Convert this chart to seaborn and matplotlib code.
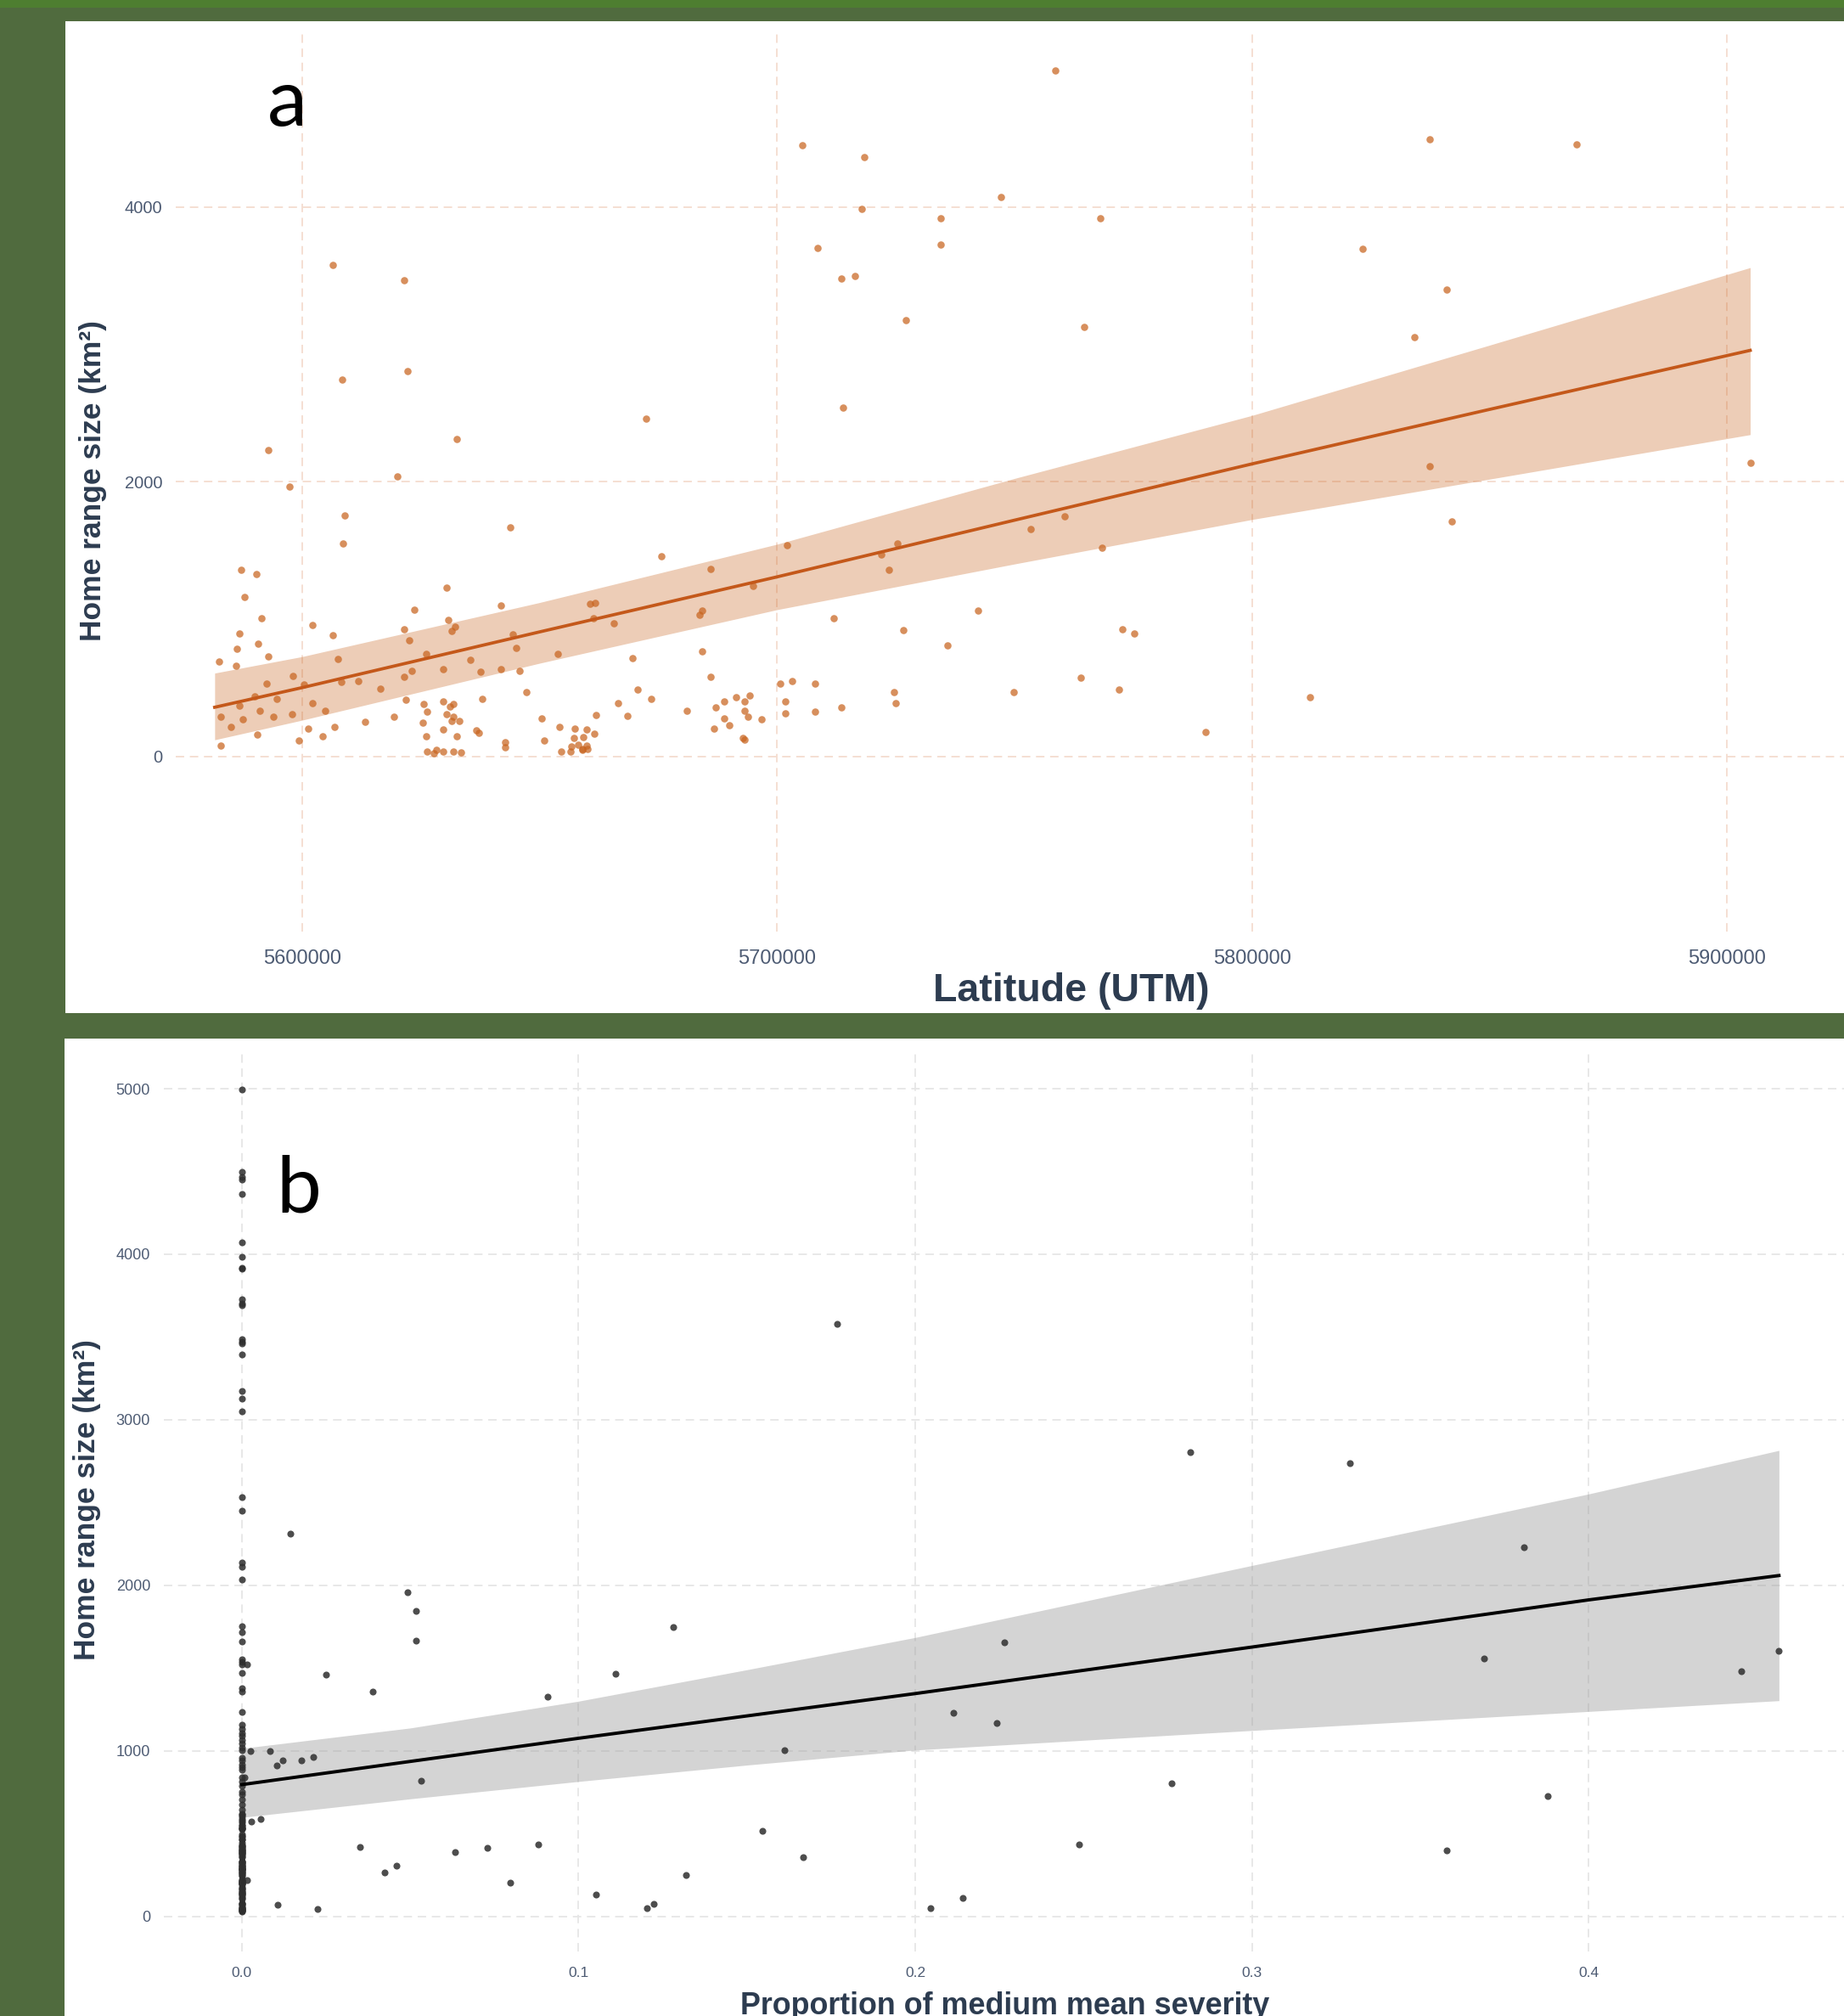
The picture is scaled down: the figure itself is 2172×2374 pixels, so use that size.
import matplotlib
matplotlib.use("Agg")
import matplotlib.pyplot as plt
from matplotlib.patches import Rectangle
import seaborn as sns

# ---------------- data : panel a (latitude vs home range) ----------------
lat_south = [5608980, 5608564, 5643770, 5587095, 5590306, 5587809, 5591377, 5586738, 5590663, 5586321,
             5592863, 5582456, 5586024, 5582813, 5584954, 5587452, 5582813, 5590603, 5591019, 5593874,
             5589948, 5594647, 5592447, 5586857, 5598156, 5597859, 5600357, 5599286, 5602141, 5606423,
             5607493, 5608207, 5602141, 5604936, 5601368, 5604282, 5606780, 5611775, 5613202, 5616473,
             5619328, 5621469, 5622599, 5623610, 5621469, 5623015, 5621826, 5626108, 5625513, 5626227,
             5625454, 5626167, 5626227, 5627713, 5628308, 5629735, 5630448, 5630805, 5631519, 5632232,
             5629735, 5629735, 5631222, 5631876, 5630389, 5631876, 5631460, 5633066, 5629735, 5632648,
             5631876, 5633422, 5635503, 5637644, 5638001, 5636752, 5637228, 5641926, 5644424, 5645138,
             5641926, 5645851, 5647279, 5642701, 5642701, 5650491, 5650908, 5653762, 5654119, 5657330,
             5659888, 5657152, 5659114, 5654595, 5656498, 5656736, 5658163, 5659055, 5659947, 5659055,
             5660066, 5661435, 5661851, 5660662, 5661613, 5661375, 5665597, 5666608, 5668451, 5669522,
             5670592]
hr_south = [1757, 1551, 1665, 1358, 1329, 1163, 1004, 892, 819, 782,
            726, 689, 662, 288, 214, 270, 77, 158, 334, 288,
            436, 421, 531, 371, 587, 307, 525, 112, 958, 884,
            707, 539, 390, 334, 203, 147, 214, 550, 251, 494,
            288, 923, 846, 1070, 577, 622, 409, 747, 382, 326,
            243, 147, 37, 25, 48, 37, 1228, 996, 913, 942,
            633, 402, 363, 380, 307, 286, 259, 259, 197, 147,
            37, 27, 705, 614, 419, 191, 170, 1097, 888, 788,
            633, 624, 465, 104, 66, 278, 112, 747, 212, 203,
            197, 135, 139, 35, 35, 73, 81, 56, 77, 46,
            52, 166, 299, 1110, 1116, 1006, 966, 390, 297, 718,
            483]

lat_mid = [5675617, 5685965, 5694945, 5684181, 5683765, 5684181, 5673476, 5680970, 5685965, 5687095,
           5688879, 5691377, 5693161, 5694291, 5693161, 5693875, 5688820, 5689950, 5686679, 5696729,
           5692804, 5693161, 5702141, 5700714, 5703211, 5707909, 5701784, 5701784, 5707909, 5713618,
           5711834, 5725393, 5721884, 5723609, 5726523, 5735860, 5742224, 5724680, 5725036, 5749776,
           5753403, 5760480]
hr_mid = [1460, 1367, 1238, 1062, 1031, 763, 419, 334, 577, 355,
          400, 429, 400, 444, 334, 290, 278, 224, 203, 270,
          131, 122, 1535, 531, 548, 531, 400, 315, 324, 355,
          1004, 1553, 1470, 1358, 921, 809, 1060, 465, 390, 465,
          1655, 1748]

lat_high = [5705381, 5718272, 5717897, 5708511, 5713517, 5716396, 5727159, 5713892, 5606383, 5621402,
            5622153, 5608511, 5632541, 5592866, 5620025, 5597372, 5672340]
hr_high = [4454, 4367, 3986, 3700, 3478, 3498, 3179, 2541, 3580, 3469,
           2807, 2744, 2309, 2232, 2039, 1966, 2459]

lat_north = [5758603, 5837407, 5868330, 5747132, 5734413, 5767955, 5734413, 5823317, 5841023, 5764713,
             5834165, 5837407, 5904989, 5768329, 5842021, 5772693, 5775187, 5763966, 5771946, 5790149,
             5812220]
hr_north = [4995, 4493, 4459, 4077, 3918, 3918, 3725, 3696, 3401, 3130,
            3053, 2111, 2135, 1517, 1710, 928, 894, 570, 488, 179,
            430]

# fitted model
fit_lat = [5581600, 5600000, 5650000, 5700000, 5750000, 5800000, 5850000, 5904865]
fit_hr_a = [357, 500, 906, 1307, 1720, 2130, 2527, 2957]
fit_lo_a = [120, 263, 678, 1068, 1401, 1725, 2019, 2343]
fit_hi_a = [606, 726, 1120, 1545, 2024, 2483, 2995, 3560]

# ---------------- data : panel b (severity vs home range) ----------------
sev_pts = [0.1768, 0.01432, 0.04907, 0.05165, 0.05165, 0.1281, 0.02494, 0.1110, 0.03894, 0.09075,
           0.00145, 0.2264, 0.2113, 0.2241, 0.1611, 0.00257, 0.00837, 0.0103, 0.01207, 0.0177,
           0.02124, 0.05326, 0.0029, 0.00563, 0.03508, 0.04232, 0.04602, 0.06323, 0.07289, 0.07981,
           0.08801, 0.00161, 0.01062, 0.02237, 0.1051, 0.1202, 0.1224, 0.1319, 0.1546, 0.1667,
           0.2045, 0.2140, 0.0008,
           0.2816, 0.3290, 0.3807, 0.3690, 0.4452, 0.4565, 0.2761, 0.2487, 0.3577, 0.3878]
hr_pts = [3578, 2311, 1958, 1843, 1667, 1750, 1458, 1465, 1357, 1328,
          1523, 1656, 1228, 1166, 1004, 997, 997, 914, 943, 943,
          965, 821, 572, 590, 421, 266, 306, 389, 414, 205,
          436, 220, 68, 43, 130, 50, 76, 248, 518, 356,
          50, 112, 842,
          2804, 2736, 2228, 1559, 1483, 1606, 803, 436, 400, 727]

hr_zero = [4993, 4496, 4468, 4450, 4363, 4072, 3982, 3920, 3913, 3730,
           3701, 3694, 3488, 3474, 3460, 3395, 3175, 3128, 3049, 2534,
           2452, 2138, 2113, 2034, 1755, 1716, 1661, 1555, 1538, 1524,
           1470, 1376, 1359, 1237, 1157, 1131, 1106, 1089, 1063, 1046,
           1020, 1003, 960, 944, 918, 901, 884, 841, 815, 790,
           755, 738, 704, 678, 644, 619,
           29, 35, 35, 37, 37, 46, 48, 52, 56, 66,
           73, 77, 81, 104, 112, 122, 131, 135, 139, 147,
           147, 158, 166, 170, 179, 191, 197, 197, 203, 203,
           212, 214, 214, 224, 243, 251, 259, 259, 270, 270,
           278, 286, 288, 288, 290, 297, 299, 307, 307, 315,
           324, 326, 334, 334, 355, 363, 371, 380, 382, 390,
           390, 400, 400, 402, 409, 419, 419, 429, 430, 444,
           465, 465, 483, 488, 494, 525, 531, 531, 539, 548,
           550, 570, 577, 587, 602, 614]
sev_zero = [0.0] * len(hr_zero)

fit_sev = [0.0, 0.05, 0.1, 0.15, 0.2, 0.3, 0.4, 0.4565]
fit_hr_b = [796, 936, 1076, 1211, 1346, 1627, 1912, 2059]
fit_lo_b = [598, 710, 815, 914, 1005, 1123, 1238, 1303]
fit_hi_b = [1015, 1138, 1300, 1490, 1685, 2120, 2552, 2815]

ticks_a_x = [5600000, 5700000, 5800000, 5900000]
ticks_a_y = [0, 2000, 4000]
ticks_b_x = [0.0, 0.1, 0.2, 0.3, 0.4]
ticks_b_y = [0, 1000, 2000, 3000, 4000, 5000]

# ---------------- figure ----------------
W, H = 2172, 2374
plt.rcParams['font.family'] = ['Liberation Sans', 'DejaVu Sans']
fig = plt.figure(figsize=(W / 100, H / 100), dpi=100)
fig.patch.set_facecolor('#506B3E')


def fx(px):
    return px / W


def fy(py):
    return 1 - py / H


fig.add_artist(Rectangle((0, fy(9)), 1, 9 / H, transform=fig.transFigure,
                         facecolor='#4E7E30', edgecolor='none', zorder=-2))
fig.add_artist(Rectangle((fx(77), fy(1193)), 1 - fx(77), (1193 - 25) / H,
                         transform=fig.transFigure, facecolor='white',
                         edgecolor='none', zorder=-1))
fig.add_artist(Rectangle((fx(76), 0), 1 - fx(76), (H - 1223) / H,
                         transform=fig.transFigure, facecolor='white',
                         edgecolor='none', zorder=-1))

title_col = '#2D3C50'
dash = (0, (5.5, 3.7))

# ---- panel a ----
axa = fig.add_axes([fx(207), fy(1097), 1 - fx(207), (1097 - 39) / H])
axa.set_facecolor('none')
axa.fill_between(fit_lat, fit_lo_a, fit_hi_a, color='#C8641F', alpha=0.32,
                 linewidth=0, zorder=1)
sns.scatterplot(x=lat_south + lat_mid + lat_high + lat_north,
                y=hr_south + hr_mid + hr_high + hr_north,
                ax=axa, color='#C8641F', alpha=0.72, s=38, linewidth=0, zorder=2)
sns.lineplot(x=fit_lat, y=fit_hr_a, ax=axa, color='#C4581A', linewidth=2.7, zorder=3)
axa.set_xlim(5573405, 5924611)
axa.set_ylim(-1277, 5268)
axa.set_xticks(ticks_a_x)
axa.set_xticklabels([str(t) for t in ticks_a_x])
axa.set_yticks(ticks_a_y)
axa.set_yticklabels([str(t) for t in ticks_a_y])
axa.grid(True, color='#F4DCCF', linestyle=dash, linewidth=1.3)
axa.set_axisbelow(True)
for s in axa.spines.values():
    s.set_visible(False)
axa.tick_params(axis='x', length=0, pad=15, labelsize=17, labelcolor='#4D5B73')
axa.tick_params(axis='y', length=0, pad=11.5, labelsize=14.5, labelcolor='#4D5B73')
axa.set_xlabel('')
axa.set_ylabel('')

# ---- panel b ----
axb = fig.add_axes([fx(193), fy(2298), 1 - fx(193), (2298 - 1238) / H])
axb.set_facecolor('none')
axb.fill_between(fit_sev, fit_lo_b, fit_hi_b, color='#9A9A9A', alpha=0.42,
                 linewidth=0, zorder=1)
sns.scatterplot(x=sev_zero + sev_pts, y=hr_zero + hr_pts, ax=axb,
                color='#2E2E2E', alpha=0.85, s=34, linewidth=0, zorder=2)
sns.lineplot(x=fit_sev, y=fit_hr_b, ax=axb, color='black', linewidth=2.8, zorder=3)
axb.set_xlim(-0.02317, 0.47582)
axb.set_ylim(-212, 5226)
axb.set_xticks(ticks_b_x)
axb.set_xticklabels(['%.1f' % t for t in ticks_b_x])
axb.set_yticks(ticks_b_y)
axb.set_yticklabels([str(t) for t in ticks_b_y])
axb.grid(True, color='#E6E6E6', linestyle=dash, linewidth=1.3)
axb.set_axisbelow(True)
for s in axb.spines.values():
    s.set_visible(False)
axb.tick_params(axis='x', length=0, pad=13, labelsize=12.5, labelcolor='#4D5B73')
axb.tick_params(axis='y', length=0, pad=11.5, labelsize=13, labelcolor='#4D5B73')
axb.set_xlabel('')
axb.set_ylabel('')

# ---- titles / labels ----
fig.text(fx(110), fy(566), 'Home range size (km²)', rotation=90, ha='center', va='center',
         fontsize=25.5, fontweight='bold', color=title_col)
fig.text(fx(1262), fy(1167), 'Latitude (UTM)', ha='center', va='center',
         fontsize=33.5, fontweight='bold', color=title_col)
fig.text(fx(103), fy(1766), 'Home range size (km²)', rotation=90, ha='center', va='center',
         fontsize=25.5, fontweight='bold', color=title_col)
fig.text(fx(1184), fy(2372), 'Proportion of medium mean severity', ha='center', va='baseline',
         fontsize=25.8, fontweight='bold', color=title_col)

fig.text(fx(338), fy(148), 'a', ha='center', va='baseline', fontsize=68,
         family=['Lato', 'DejaVu Sans'], color='black')
fig.text(fx(352), fy(1427), 'b', ha='center', va='baseline', fontsize=68,
         family=['Lato', 'DejaVu Sans'], color='black')

fig.savefig('out.png', dpi=100, facecolor=fig.get_facecolor())
